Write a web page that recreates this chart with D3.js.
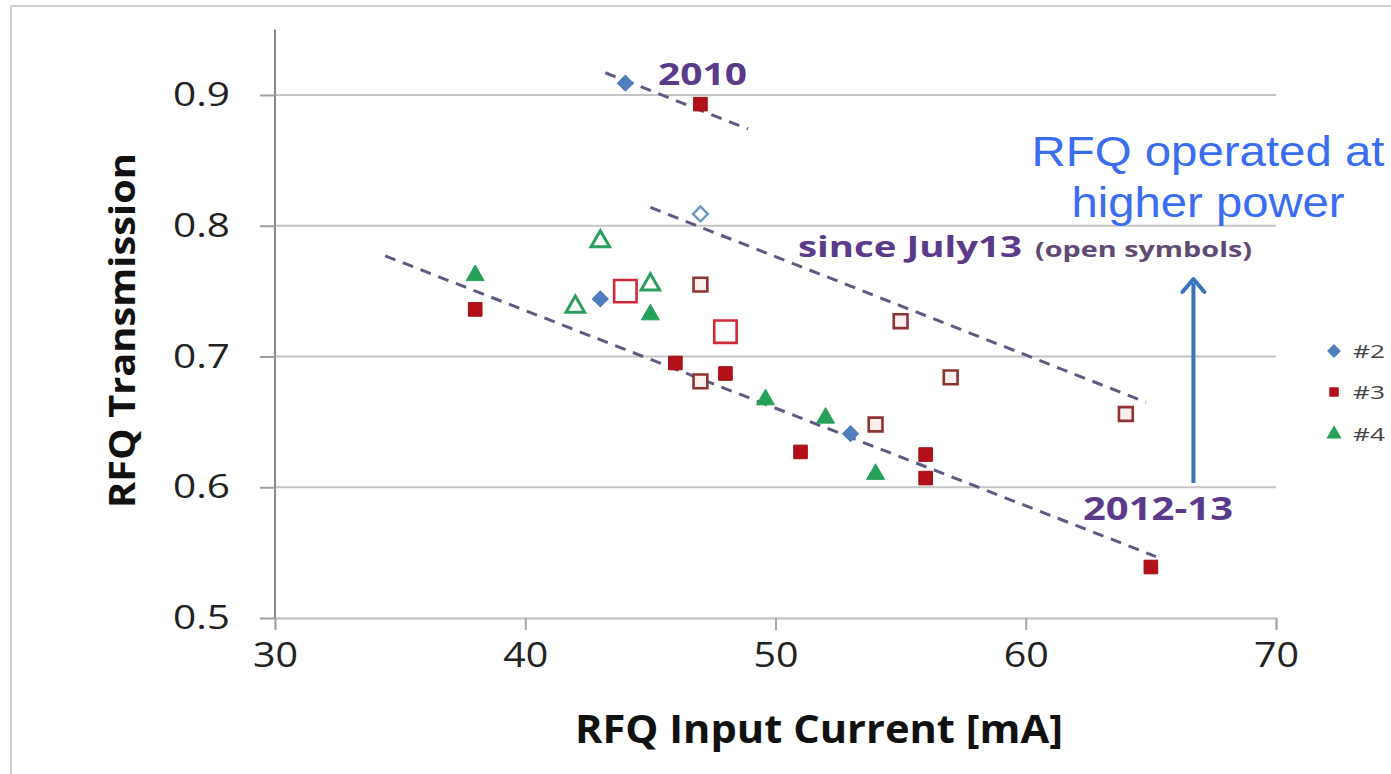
<!DOCTYPE html>
<html>
<head>
<meta charset="utf-8">
<script src="https://cdn.jsdelivr.net/npm/d3@7"></script>
<style>
  html, body { margin: 0; padding: 0; background: #fff; }
  svg { display: block; }
</style>
</head>
<body>
<svg id="chart" width="1391" height="774"></svg>
<script>
// Axis ticks
const xTicks = [30, 40, 50, 60, 70];
const yTicks = [0.5, 0.6, 0.7, 0.8, 0.9];

// Unit #2 (diamonds)
const s2FilledX = [44, 43, 53];
const s2FilledY = [0.909, 0.744, 0.641];
const s2OpenX = [47];
const s2OpenY = [0.809];

// Unit #3 (squares)
const s3FilledX = [47, 38, 46, 48, 51, 56, 56, 65];
const s3FilledY = [0.893, 0.736, 0.695, 0.687, 0.627, 0.625, 0.607, 0.539];
const s3OpenX = [47, 55, 57, 54, 47, 64];
const s3OpenY = [0.755, 0.727, 0.684, 0.648, 0.681, 0.656];
const s3OpenLargeX = [44, 48];
const s3OpenLargeY = [0.750, 0.719];

// Unit #4 (triangles)
const s4FilledX = [38, 45, 49.6, 52, 54];
const s4FilledY = [0.762, 0.732, 0.667, 0.653, 0.610];
const s4OpenX = [43, 42, 45];
const s4OpenY = [0.788, 0.738, 0.755];

// Dashed trend lines (start and end points)
const trend2010X = [43.2, 48.9];
const trend2010Y = [0.917, 0.874];
const trendJulyX = [45.0, 64.8];
const trendJulyY = [0.814, 0.665];
const trend2012X = [34.4, 65.2];
const trend2012Y = [0.777, 0.547];

const legendNames = ["#2", "#3", "#4"];

const svg = d3.select("#chart");

const x = d3.scaleLinear().domain([30, 70]).range([275, 1276]);
const y = d3.scaleLinear().domain([0.5, 0.95]).range([618, 29.6]);

const zip = (xs, ys) => xs.map((v, i) => [v, ys[i]]);

// stretch a text run to a given rendered width
function fit(sel, w) {
  return sel.attr("textLength", w).attr("lengthAdjust", "spacingAndGlyphs");
}

// outer frame
svg.append("rect")
  .attr("x", 11).attr("y", 6).attr("width", 1400).attr("height", 800)
  .attr("fill", "none").attr("stroke", "#d2d2d2").attr("stroke-width", 2);

// horizontal gridlines
svg.append("g")
  .selectAll("line")
  .data(yTicks.filter(d => d > 0.5))
  .join("line")
  .attr("x1", x(30)).attr("x2", x(70))
  .attr("y1", d => y(d)).attr("y2", d => y(d))
  .attr("stroke", "#c4c4c4").attr("stroke-width", 2);

// x axis
const fontMain = "'Open Sans', 'Noto Sans', sans-serif";
const xAxis = svg.append("g")
  .attr("transform", `translate(0,${y(0.5)})`)
  .call(d3.axisBottom(x).tickValues(xTicks).tickSize(12).tickPadding(13).tickFormat(d3.format("d")));
xAxis.select(".domain").attr("stroke", "#bdbdbd").attr("stroke-width", 2);
xAxis.selectAll(".tick line").attr("stroke", "#a8a8a8").attr("stroke-width", 2);
fit(xAxis.selectAll(".tick text"), 45)
  .attr("font-family", fontMain).attr("font-size", 34).attr("fill", "#222");

// y axis
const yAxis = svg.append("g")
  .attr("transform", `translate(${x(30)},0)`)
  .call(d3.axisLeft(y).tickValues(yTicks).tickSize(15).tickPadding(30).tickFormat(d3.format(".1f")));
yAxis.select(".domain").attr("stroke", "#8a8a8a").attr("stroke-width", 2)
  .attr("d", `M0,${y(0.95)}V${y(0.5)}`);
yAxis.selectAll(".tick line").attr("stroke", "#a0a0a0").attr("stroke-width", 2);
fit(yAxis.selectAll(".tick text"), 57)
  .attr("font-family", fontMain).attr("font-size", 33).attr("fill", "#222");

// axis titles
fit(svg.append("text"), 488)
  .attr("x", 819).attr("y", 743)
  .attr("text-anchor", "middle")
  .attr("font-family", fontMain).attr("font-weight", 700).attr("font-size", 40)
  .attr("fill", "#111")
  .text("RFQ Input Current [mA]");

fit(svg.append("text"), 355)
  .attr("transform", "translate(135,330.5) rotate(-90)")
  .attr("text-anchor", "middle")
  .attr("font-family", fontMain).attr("font-weight", 700).attr("font-size", 35)
  .attr("fill", "#111")
  .text("RFQ Transmission");

// dashed trend lines
const line = d3.line().x(d => x(d[0])).y(d => y(d[1]));
[[trend2010X, trend2010Y], [trendJulyX, trendJulyY], [trend2012X, trend2012Y]].forEach(([xs, ys]) => {
  svg.append("path")
    .attr("d", line(zip(xs, ys)))
    .attr("fill", "none")
    .attr("stroke", "#5f5a82")
    .attr("stroke-width", 3)
    .attr("stroke-dasharray", "11,8");
});

// markers
const blue = "#4f7fbe", red = "#b3101a", green = "#27a05a";
const sym = (type, size) => d3.symbol().type(type).size(size)();

function drawPoints(xs, ys, type, size, fill, stroke, sw, rot) {
  svg.append("g")
    .selectAll("path")
    .data(zip(xs, ys))
    .join("path")
    .attr("transform", d => `translate(${x(d[0])},${y(d[1])})` + (rot ? ` rotate(${rot})` : ""))
    .attr("d", sym(type, size))
    .attr("fill", fill)
    .attr("stroke", stroke)
    .attr("stroke-width", sw);
}

// open symbols
drawPoints(s2OpenX, s2OpenY, d3.symbolSquare, 110, "#fff", "#6e95bd", 2.4, 45);
drawPoints(s3OpenX, s3OpenY, d3.symbolSquare, 190, "#fbeeee", "#8e3232", 2.6);
drawPoints(s3OpenLargeX, s3OpenLargeY, d3.symbolSquare, 500, "#fff", "#cf2a36", 2.6);
drawPoints(s4OpenX, s4OpenY, d3.symbolTriangle, 150, "#fff", "#2e9e60", 3);

// filled symbols
drawPoints(s2FilledX, s2FilledY, d3.symbolSquare, 125, blue, "#4a78b4", 1, 45);
drawPoints(s3FilledX, s3FilledY, d3.symbolSquare, 185, red, "#a00d16", 1);
drawPoints(s4FilledX, s4FilledY, d3.symbolTriangle, 140, green, green, 1);

// trend labels
const purple = "#5b3a8a";
fit(svg.append("text"), 89)
  .attr("x", 658).attr("y", 85)
  .attr("font-family", fontMain).attr("font-weight", 700).attr("font-size", 31)
  .attr("fill", purple).text("2010");

fit(svg.append("text"), 224)
  .attr("x", 798).attr("y", 257)
  .attr("font-family", fontMain).attr("font-weight", 700).attr("font-size", 29)
  .attr("fill", purple).text("since July13");
fit(svg.append("text"), 217)
  .attr("x", 1035).attr("y", 257)
  .attr("font-family", fontMain).attr("font-weight", 700).attr("font-size", 21)
  .attr("fill", "#5e4a72").text("(open symbols)");

fit(svg.append("text"), 150)
  .attr("x", 1083).attr("y", 520)
  .attr("font-family", fontMain).attr("font-weight", 700).attr("font-size", 32)
  .attr("fill", purple).text("2012-13");

// annotation
const note = svg.append("text")
  .attr("text-anchor", "middle")
  .attr("font-family", "'Liberation Sans', Arial, sans-serif").attr("font-size", 42)
  .attr("fill", "#3b6df2");
fit(note.append("tspan"), 353).attr("x", 1208).attr("y", 166).text("RFQ operated at");
fit(note.append("tspan"), 273).attr("x", 1208).attr("y", 217).text("higher power");

// arrow
const arrowX = 66.7;
svg.append("line")
  .attr("x1", x(arrowX)).attr("x2", x(arrowX))
  .attr("y1", 483).attr("y2", 283)
  .attr("stroke", "#3a73c0").attr("stroke-width", 4);
svg.append("path")
  .attr("d", `M${x(arrowX) - 11},${292} L${x(arrowX)},${279} L${x(arrowX) + 11},${292}`)
  .attr("fill", "none").attr("stroke", "#3a73c0").attr("stroke-width", 4)
  .attr("stroke-linejoin", "round").attr("stroke-linecap", "round");

// legend
const legendTypes = [d3.symbolSquare, d3.symbolSquare, d3.symbolTriangle];
const legendFill = [blue, red, green];
const legendRot = [45, 0, 0];
const legendSize = [95, 90, 100];
const legendY = [351, 392, 434];
const lg = svg.append("g");
legendNames.forEach((name, i) => {
  lg.append("path")
    .attr("transform", `translate(1334,${legendY[i]})` + (legendRot[i] ? ` rotate(${legendRot[i]})` : ""))
    .attr("d", sym(legendTypes[i], legendSize[i]))
    .attr("fill", legendFill[i]);
  fit(lg.append("text"), 32)
    .attr("x", 1353).attr("y", legendY[i]).attr("dy", "0.36em")
    .attr("font-family", fontMain).attr("font-size", 19).attr("fill", "#444")
    .text(name);
});
</script>
</body>
</html>
